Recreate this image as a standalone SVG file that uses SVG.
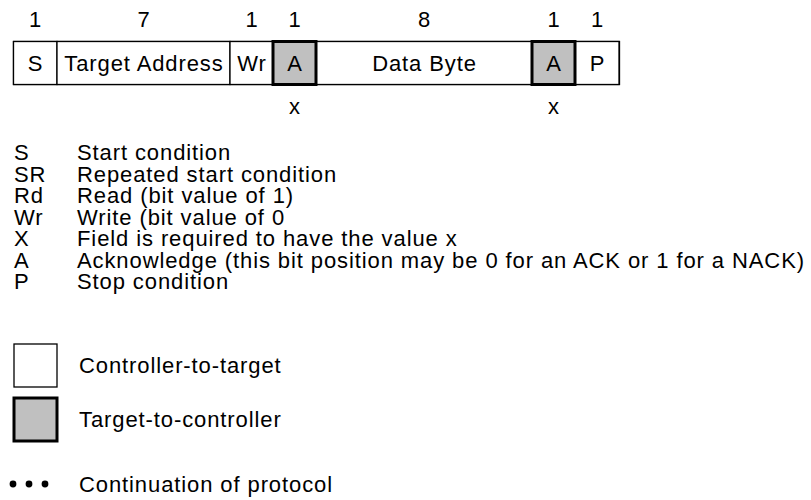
<svg xmlns="http://www.w3.org/2000/svg" width="811" height="500" viewBox="0 0 811 500">
<style>
text{font-family:"Liberation Sans",Arial,sans-serif;font-size:22px;letter-spacing:0.9px;fill:#000}
.c{text-anchor:middle}
.w{fill:#fff;stroke:#000;stroke-width:1.3}
.g{fill:#c0c0c0;stroke:#000;stroke-width:3}
</style>
<rect width="811" height="500" fill="#fff"/>
<g id="frame">
<rect class="w" x="13.5" y="41.5" width="606" height="43"/>
</g>
<g id="cell-s"><text class="c" x="35.5" y="27">1</text><rect class="w" x="13.5" y="41.5" width="43.5" height="43"/><text class="c" x="35.5" y="71">S</text></g>
<g id="cell-addr"><text class="c" x="144" y="27">7</text><rect class="w" x="57" y="41.5" width="173" height="43"/><text class="c" x="144" y="71">Target Address</text></g>
<g id="cell-wr"><text class="c" x="252" y="27">1</text><rect class="w" x="230" y="41.5" width="43" height="43"/><text class="c" x="252" y="71">Wr</text></g>
<g id="cell-data"><text class="c" x="424.5" y="27">8</text><rect class="w" x="316" y="41.5" width="216" height="43"/><text class="c" x="424.5" y="71">Data Byte</text></g>
<g id="cell-p"><text class="c" x="597.5" y="27">1</text><rect class="w" x="575" y="41.5" width="44" height="43"/><text class="c" x="597.5" y="71">P</text></g>
<g id="cell-a1"><text class="c" x="295" y="27">1</text><rect class="g" x="273" y="41.5" width="43" height="43"/><text class="c" x="295" y="71">A</text><text class="c" x="295" y="114">x</text></g>
<g id="cell-a2"><text class="c" x="554" y="27">1</text><rect class="g" x="532" y="41.5" width="43" height="43"/><text class="c" x="554" y="71">A</text><text class="c" x="554" y="114">x</text></g>
<g id="legend">
<text x="14" y="160">S</text><text x="77" y="160">Start condition</text>
<text x="14" y="181.5">SR</text><text x="77" y="181.5">Repeated start condition</text>
<text x="14" y="203">Rd</text><text x="77" y="203">Read (bit value of 1)</text>
<text x="14" y="224.5">Wr</text><text x="77" y="224.5">Write (bit value of 0</text>
<text x="14" y="246">X</text><text x="77" y="246">Field is required to have the value x</text>
<text x="14" y="267.5">A</text><text x="77" y="267.5">Acknowledge (this bit position may be 0 for an ACK or 1 for a NACK)</text>
<text x="14" y="289">P</text><text x="77" y="289">Stop condition</text>
</g>
<g id="key-white"><rect class="w" x="14" y="344" width="43" height="43"/><text x="79" y="373">Controller-to-target</text></g>
<g id="key-gray"><rect class="g" x="14" y="398" width="43" height="43"/><text x="79" y="427">Target-to-controller</text></g>
<g id="key-dots"><circle cx="13" cy="484" r="3.4"/><circle cx="29" cy="484" r="3.4"/><circle cx="45" cy="484" r="3.4"/><text x="79" y="492">Continuation of protocol</text></g>
<g id="connectors"/>
</svg>
